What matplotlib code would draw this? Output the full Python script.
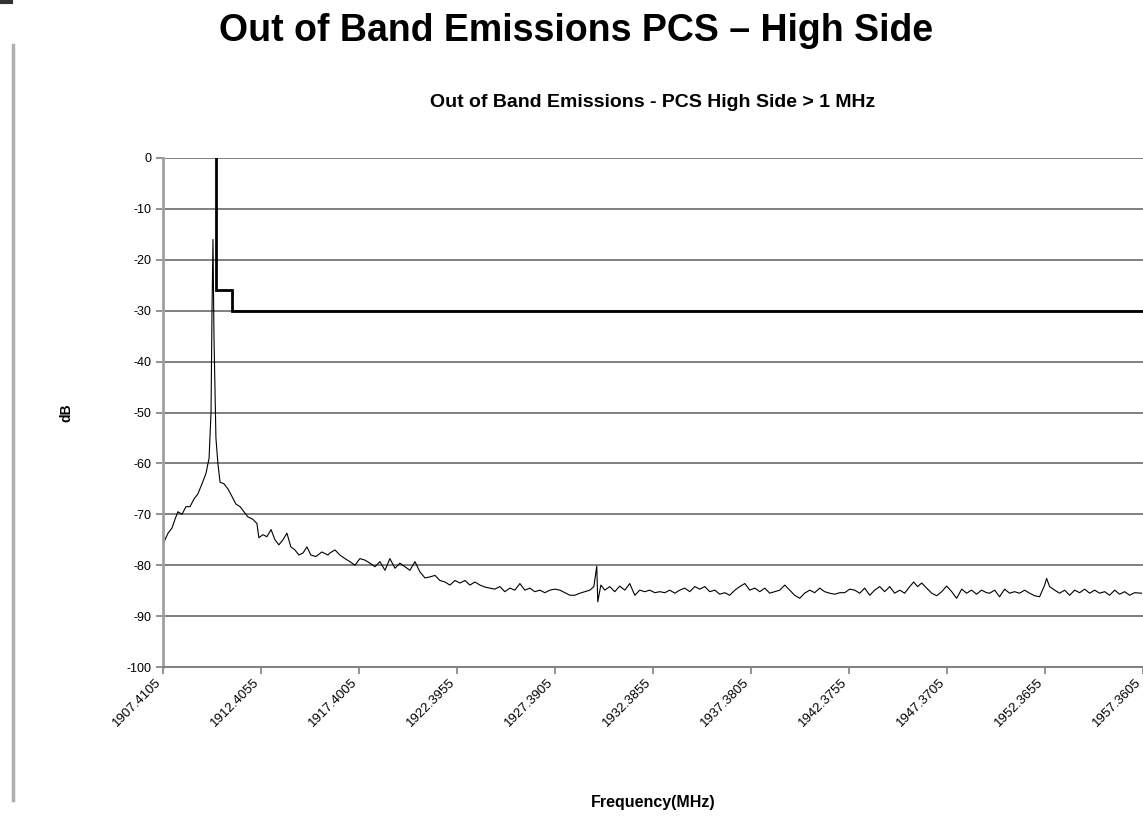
import matplotlib
matplotlib.use("Agg")
import matplotlib.pyplot as plt
import matplotlib.transforms as mtransforms
from matplotlib.lines import Line2D

plt.rcParams['font.family'] = ['Liberation Sans', 'DejaVu Sans']

# Tick positions / labels on the frequency axis (MHz)
freq_ticks = [1907.4105, 1912.4055, 1917.4005, 1922.3955, 1927.3905, 1932.3855,
              1937.3805, 1942.3755, 1947.3705, 1952.3655, 1957.3605]
tick_labels = ["1907.4105", "1912.4055", "1917.4005", "1922.3955", "1927.3905", "1932.3855",
               "1937.3805", "1942.3755", "1947.3705", "1952.3655", "1957.3605"]

# Emission limit mask
mask_freq = [1910.10, 1910.10, 1910.95, 1910.95, 1957.3605]
mask_db = [0, -26, -26, -30, -30]

trace_freq = [1907.41, 1907.51, 1907.67, 1907.87, 1908.02, 1908.17, 1908.38, 1908.58, 1908.79,
              1908.99, 1909.19, 1909.40, 1909.60, 1909.76, 1909.86, 1909.91, 1909.96, 1910.01,
              1910.11, 1910.21, 1910.32, 1910.52, 1910.72, 1910.93, 1911.13, 1911.34, 1911.54,
              1911.74, 1912.00, 1912.20, 1912.30, 1912.51, 1912.71, 1912.92, 1913.12, 1913.32,
              1913.53, 1913.73, 1913.93, 1914.14, 1914.34, 1914.55, 1914.75, 1914.95, 1915.21,
              1915.51, 1915.82, 1915.92, 1916.18, 1916.43, 1916.69, 1916.94, 1917.20, 1917.45,
              1917.71, 1917.96, 1918.22, 1918.47, 1918.73, 1918.98, 1919.24, 1919.49, 1919.75,
              1920.00, 1920.26, 1920.51, 1920.77, 1921.02, 1921.28, 1921.53, 1921.79, 1922.04,
              1922.30, 1922.55, 1922.81, 1923.06, 1923.32, 1923.57, 1923.83, 1924.08, 1924.33,
              1924.59, 1924.84, 1925.10, 1925.35, 1925.61, 1925.86, 1926.12, 1926.37, 1926.63,
              1926.88, 1927.14, 1927.39, 1927.65, 1927.90, 1928.16, 1928.41, 1928.67, 1928.92,
              1929.18, 1929.38, 1929.53, 1929.58, 1929.74, 1929.94, 1930.19, 1930.45, 1930.70,
              1930.96, 1931.21, 1931.47, 1931.72, 1931.98, 1932.23, 1932.49, 1932.74, 1933.00,
              1933.25, 1933.51, 1933.76, 1934.02, 1934.27, 1934.53, 1934.78, 1935.04, 1935.29,
              1935.55, 1935.80, 1936.06, 1936.31, 1936.57, 1936.82, 1937.08, 1937.33, 1937.59,
              1937.84, 1938.10, 1938.35, 1938.61, 1938.86, 1939.12, 1939.37, 1939.62, 1939.88,
              1940.13, 1940.39, 1940.64, 1940.90, 1941.15, 1941.41, 1941.66, 1941.92, 1942.17,
              1942.43, 1942.68, 1942.94, 1943.19, 1943.45, 1943.70, 1943.96, 1944.21, 1944.47,
              1944.72, 1944.98, 1945.23, 1945.49, 1945.69, 1945.89, 1946.10, 1946.35, 1946.61,
              1946.86, 1947.12, 1947.37, 1947.63, 1947.88, 1948.14, 1948.39, 1948.64, 1948.90,
              1949.15, 1949.41, 1949.56, 1949.82, 1950.07, 1950.33, 1950.58, 1950.84, 1951.09,
              1951.35, 1951.60, 1951.86, 1952.11, 1952.37, 1952.47, 1952.62, 1952.88, 1953.13,
              1953.39, 1953.64, 1953.90, 1954.15, 1954.41, 1954.66, 1954.92, 1955.17, 1955.43,
              1955.68, 1955.94, 1956.19, 1956.45, 1956.70, 1956.96, 1957.31]
trace_db = [-76.0, -75.0, -73.7, -72.7, -71.0, -69.5, -70.0, -68.5, -68.5,
            -67.0, -66.0, -64.0, -62.0, -59.0, -50.0, -30.0, -16.0, -35.0,
            -55.0, -60.0, -63.7, -64.0, -65.0, -66.5, -68.0, -68.5, -69.5,
            -70.5, -71.0, -71.8, -74.6, -74.0, -74.4, -73.0, -75.0, -76.0,
            -75.0, -73.7, -76.4, -77.0, -78.0, -77.6, -76.4, -78.0, -78.3,
            -77.4, -78.0, -77.6, -77.0, -78.0, -78.7, -79.3, -80.0, -78.7,
            -79.0, -79.6, -80.3, -79.3, -81.0, -78.7, -80.6, -79.6, -80.3,
            -81.0, -79.3, -81.3, -82.5, -82.3, -82.0, -83.0, -83.3, -83.9,
            -83.0, -83.5, -83.0, -83.9, -83.3, -83.9, -84.3, -84.5, -84.7,
            -84.2, -85.2, -84.5, -84.9, -83.6, -84.9, -84.5, -85.2, -84.9,
            -85.4, -84.9, -84.7, -84.9, -85.4, -85.9, -85.9, -85.5, -85.2,
            -84.9, -84.2, -80.2, -87.2, -83.9, -84.9, -84.2, -85.2, -84.1,
            -84.9, -83.6, -85.9, -84.9, -85.2, -84.9, -85.4, -85.2, -85.4,
            -84.9, -85.5, -84.9, -84.5, -85.2, -84.2, -84.7, -84.2, -85.2,
            -84.9, -85.7, -85.4, -85.9, -84.9, -84.2, -83.6, -84.9, -84.5,
            -85.2, -84.5, -85.5, -85.2, -84.9, -83.9, -84.9, -85.9, -86.5,
            -85.5, -84.9, -85.4, -84.5, -85.2, -85.5, -85.7, -85.4, -85.4,
            -84.7, -84.9, -85.5, -84.5, -85.9, -84.9, -84.2, -85.2, -84.2,
            -85.5, -84.9, -85.5, -84.2, -83.3, -84.2, -83.5, -84.5, -85.5,
            -86.0, -85.2, -84.1, -85.2, -86.5, -84.7, -85.5, -84.9, -85.7,
            -84.9, -85.4, -85.5, -84.9, -86.2, -84.7, -85.5, -85.2, -85.5,
            -84.9, -85.5, -86.0, -86.2, -83.9, -82.6, -84.2, -84.9, -85.5,
            -84.9, -85.9, -84.9, -85.4, -84.7, -85.5, -84.9, -85.5, -85.2,
            -85.9, -84.9, -85.7, -85.2, -85.9, -85.4, -85.5]

fig = plt.figure(figsize=(11.43, 8.25), dpi=100)
ax = fig.add_axes([0.1426, 0.1915, 0.857, 0.617])

ax.plot(trace_freq, trace_db, color="black", linewidth=0.8)
ax.plot(mask_freq, mask_db, color="black", linewidth=2.0, solid_joinstyle="miter")

ax.set_xlim(freq_ticks[0], freq_ticks[-1])
ax.set_ylim(-100, 0)
ax.set_yticks(range(-100, 1, 10))
ax.set_yticklabels([str(v) for v in range(-100, 1, 10)], fontsize=9)
ax.set_xticks(freq_ticks)
ax.set_xticklabels([""] * len(freq_ticks))

# rotated frequency labels, nudged left so the last one stays inside the figure
lbl_trans = ax.get_xaxis_transform() + mtransforms.ScaledTranslation(-8 / 100, -9 / 100, fig.dpi_scale_trans)
for f, t in zip(freq_ticks, tick_labels):
    ax.text(f, 0, t, transform=lbl_trans, rotation=45, ha="right", va="top",
            rotation_mode="anchor", fontsize=9.5, clip_on=False)

ax.grid(axis="y", color="#808080", linewidth=1.4)
ax.set_axisbelow(True)
for side in ["top", "right"]:
    ax.spines[side].set_visible(False)
ax.spines["left"].set_color("#a0a0a0")
ax.spines["left"].set_linewidth(2)
ax.spines["bottom"].set_color("#808080")
ax.spines["bottom"].set_linewidth(1.4)
ax.tick_params(axis="both", colors="#808080", length=5, width=1.2, labelcolor="black")

ax.set_title("Out of Band Emissions - PCS High Side > 1 MHz", fontsize=14, fontweight="bold", pad=37)
ax.set_ylabel("dB", fontsize=10, fontweight="bold", labelpad=38)
ax.set_xlabel("Frequency(MHz)", fontsize=11.5, fontweight="bold", labelpad=84)

fig.text(0.504, 0.962, "Out of Band Emissions PCS \u2013 High Side", ha="center", va="center",
         fontsize=27, fontweight="bold")

# left frame line of the slide
fig.add_artist(Line2D([0.011, 0.011], [0.03, 0.945], color="#b0b0b0", linewidth=2.5))
fig.add_artist(Line2D([0.0, 0.01], [0.998, 0.998], color="#333333", linewidth=3))

fig.savefig("out.png", dpi=100)
